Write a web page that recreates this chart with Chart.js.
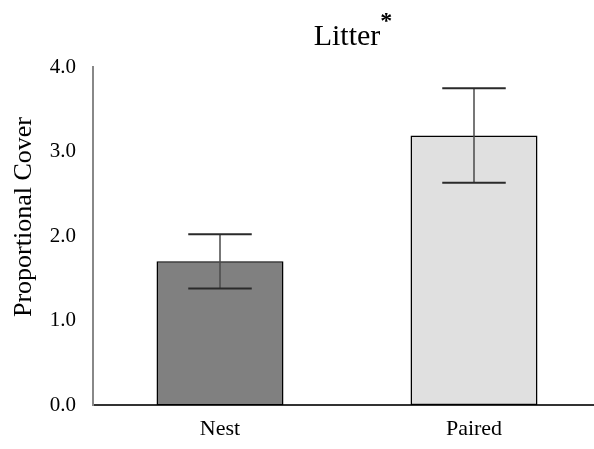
<!DOCTYPE html>
<html>
<head>
<meta charset="utf-8">
<script src="https://cdn.jsdelivr.net/npm/chart.js@4/dist/chart.umd.min.js"></script>
<style>
  html, body { margin: 0; padding: 0; overflow: hidden; background: #fff; }
  #wrap { width: 601px; height: 449px; position: relative; }
</style>
</head>
<body>
<div id="wrap"><canvas id="c"></canvas></div>
<script>
// Litter cover by site type
const categories = ['Nest', 'Paired'];
const coverMeans = [1.70, 3.19];
const errorLow = [1.38, 2.63];
const errorHigh = [2.02, 3.75];
const yTicks = [0, 1, 2, 3, 4];

const chartTitle = 'Litter';
const titleMark = '*';
const yAxisTitle = 'Proportional Cover';

const SERIF = '"Liberation Serif", "Times New Roman", serif';

// Vertical error bars with caps
const errorBarPlugin = {
  id: 'errorBars',
  afterDatasetsDraw(chart) {
    const ctx = chart.ctx;
    const meta = chart.getDatasetMeta(0);
    const y = chart.scales.y;
    ctx.save();
    meta.data.forEach((bar, i) => {
      const x = bar.x;
      const half = bar.width / 4;
      const yLo = y.getPixelForValue(errorLow[i]);
      const yHi = y.getPixelForValue(errorHigh[i]);
      ctx.strokeStyle = '#4a4a4a';
      ctx.lineWidth = 1.5;
      ctx.beginPath();
      ctx.moveTo(x, yLo);
      ctx.lineTo(x, yHi);
      ctx.stroke();
      ctx.strokeStyle = '#2a2a2a';
      ctx.lineWidth = 2;
      ctx.beginPath();
      ctx.moveTo(x - half, yHi);
      ctx.lineTo(x + half, yHi);
      ctx.moveTo(x - half, yLo);
      ctx.lineTo(x + half, yLo);
      ctx.stroke();
    });
    ctx.restore();
  }
};

// Title with superscript mark, and the rotated y-axis title
const labelsPlugin = {
  id: 'titles',
  afterDraw(chart) {
    const ctx = chart.ctx;
    const area = chart.chartArea;
    ctx.save();
    ctx.fillStyle = '#000';
    ctx.textBaseline = 'alphabetic';
    ctx.font = '30px ' + SERIF;
    const w = ctx.measureText(chartTitle).width;
    const cx = (area.left + area.right) / 2;
    const tx = cx - w / 2;
    ctx.textAlign = 'left';
    ctx.fillText(chartTitle, tx, 45);
    ctx.font = 'bold 24px ' + SERIF;
    ctx.fillText(titleMark, tx + w, 28);

    ctx.translate(31, 217);
    ctx.rotate(-Math.PI / 2);
    ctx.font = '26px ' + SERIF;
    ctx.textAlign = 'center';
    ctx.fillText(yAxisTitle, 0, 0);
    ctx.restore();
  }
};

new Chart(document.getElementById('c'), {
  type: 'bar',
  data: {
    labels: categories,
    datasets: [{
      data: coverMeans,
      backgroundColor: ['#808080', '#e0e0e0'],
      borderColor: '#000',
      borderWidth: 1.5,
      borderSkipped: false,
      categoryPercentage: 1.0,
      barPercentage: 0.5
    }]
  },
  options: {
    responsive: true,
    maintainAspectRatio: false,
    animation: false,
    devicePixelRatio: 1,
    layout: { padding: { top: 67, left: 0, right: 0, bottom: 0 } },
    plugins: {
      legend: { display: false },
      tooltip: { enabled: false },
      title: { display: false }
    },
    scales: {
      x: {
        grid: { display: false, drawTicks: false },
        border: { color: '#333', width: 2 },
        ticks: {
          color: '#000',
          font: { family: SERIF, size: 22 },
          padding: 11
        },
        afterFit(scale) { scale.height = 44; }
      },
      y: {
        min: 0,
        max: 4,
        afterBuildTicks(scale) { scale.ticks = yTicks.map(v => ({ value: v })); },
        grid: { display: false, drawTicks: false },
        border: { color: '#888', width: 2 },
        ticks: {
          color: '#000',
          font: { family: SERIF, size: 21 },
          padding: 17,
          callback: v => Number(v).toFixed(1)
        },
        afterFit(scale) { scale.width = 93; }
      }
    }
  },
  plugins: [errorBarPlugin, labelsPlugin]
});
</script>
</body>
</html>
